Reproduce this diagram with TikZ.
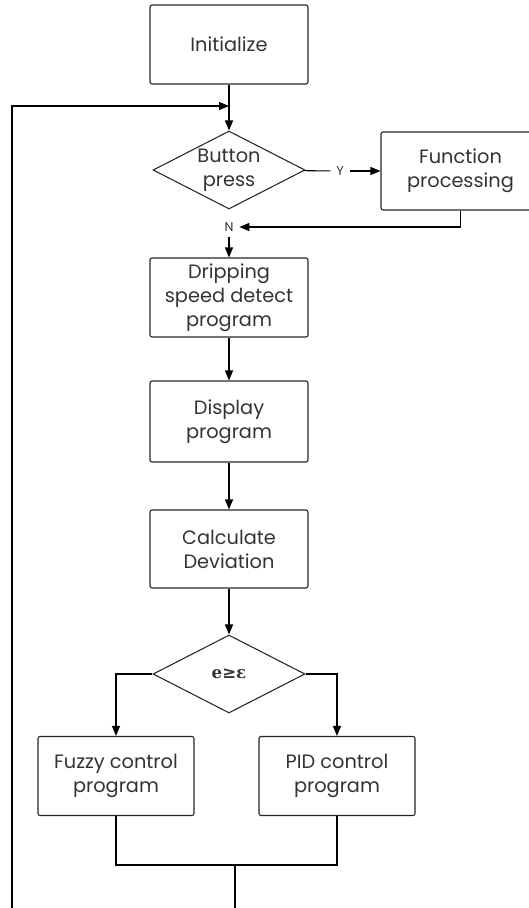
\documentclass[tikz,border=0pt]{standalone}
\usepackage{fontspec}
\setmainfont{Poppins}
\newfontfamily\symfont{DejaVu Serif}
\usetikzlibrary{arrows.meta,shapes.geometric}

\begin{document}
\begin{tikzpicture}[x=0.75pt,y=-0.75pt,
    line width=0.8pt,
    >={Triangle[length=7.5pt,width=6pt]},
    box/.style={draw=black!85, rounded corners=1.5pt, align=center,
        minimum width=158*0.75pt, minimum height=79*0.75pt, inner sep=2pt,
        text=black!80, font=\fontsize{14.5}{18}\selectfont},
    decide/.style={draw=black!85, diamond, aspect=1.95, inner sep=0pt,
        minimum width=152*0.75pt, minimum height=78*0.75pt, align=center,
        text=black!80, font=\fontsize{14.5}{18}\selectfont},
    tag/.style={text=black!80, font=\fontsize{9.5}{10}\selectfont, inner sep=4pt}]
    % 画布范围（右侧的框被截掉一部分）
    \clip (0,0) rectangle (529,908);

    % === 主流程框 ===
    \node[box] (init) at (229,44.5) {Initialize};
    \node[decide] (btn) at (229,170) {Button\\press};
    \node[box, minimum width=159*0.75pt, minimum height=78*0.75pt] (func) at (460.5,171) {Function\\processing};
    \node[tag] (yes) at (340,171) {Y};
    \node[tag] (no) at (229,227) {N};
    \node[box] (drip) at (229,297.5) {Dripping\\speed detect\\program};
    \node[box, minimum height=81*0.75pt] (disp) at (229,421.5) {Display\\program};
    \node[box, minimum height=78*0.75pt] (calc) at (229,549) {Calculate\\Deviation};
    \node[decide, font=\symfont\bfseries\fontsize{12.5}{14}\selectfont] (err) at (229,674) {e≥ε};
    \node[box, minimum width=156*0.75pt] (fuzzy) at (116,776) {Fuzzy control\\program};
    \node[box, minimum width=156*0.75pt] (pid) at (337,776) {PID control\\program};

    % 辅助点
    \coordinate (loop) at (229,106);
    \coordinate (back) at (460.5,227);
    \coordinate (merge) at (235,865);
    \coordinate (out) at (235,908);
    \coordinate (left) at (12,908);

    % === 连线 ===
    \draw[->] (init) -- (btn);
    \draw (btn) -- (yes);
    \draw[->] (yes) -- (func);
    \draw[->] (func.south) -- (back) -- (no);
    \draw[->] (no) -- (drip);
    \draw[->] (drip) -- (disp);
    \draw[->] (disp) -- (calc);
    \draw[->] (calc) -- (err);
    \draw[->] (err.west) -| (fuzzy.north);
    \draw[->] (err.east) -| (pid.north);
    \draw (fuzzy.south) |- (merge) -| (pid.south);
    \draw (merge) -- (out);

    % 回到按键判断的反馈线
    \draw[->] (left) |- (loop);
\end{tikzpicture}
\end{document}
